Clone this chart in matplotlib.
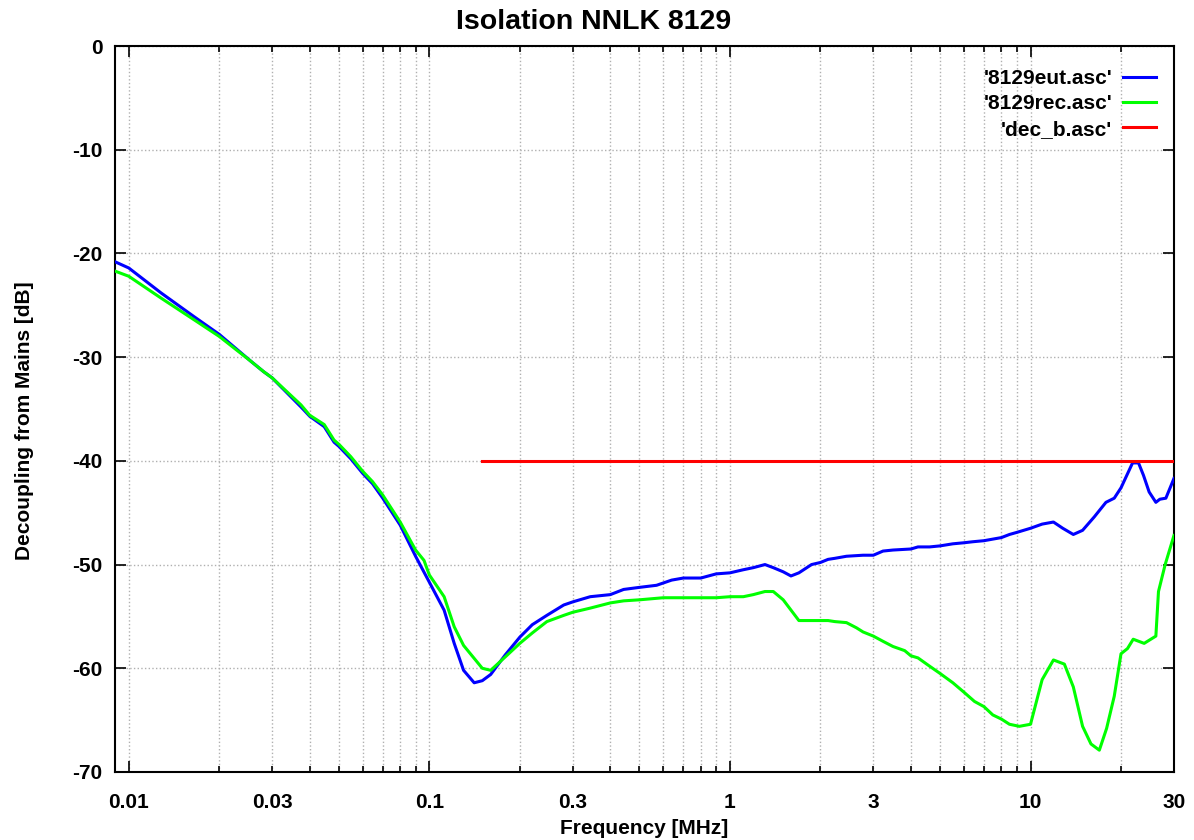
import matplotlib
matplotlib.use('Agg')
import matplotlib.pyplot as plt

plt.rcParams['font.family'] = ['Liberation Sans', 'DejaVu Sans']
plt.rcParams['font.weight'] = 'bold'
plt.rcParams['axes.unicode_minus'] = False

freq_eut = [0.009, 0.01, 0.0128, 0.0165, 0.02, 0.0255, 0.0281, 0.03, 0.0374, 0.04,
            0.0447, 0.0482, 0.05, 0.0548, 0.06, 0.0647, 0.07, 0.08, 0.09, 0.1,
            0.112, 0.121, 0.13, 0.141, 0.15, 0.16, 0.179, 0.2, 0.22, 0.246,
            0.28, 0.3, 0.343, 0.4, 0.443, 0.5, 0.57, 0.64, 0.7, 0.8,
            0.9, 1.0, 1.108, 1.196, 1.308, 1.394, 1.504, 1.596, 1.696, 1.869,
            2.0, 2.121, 2.233, 2.442, 2.773, 3.0, 3.23, 3.486, 4.0, 4.222,
            4.616, 5.0, 5.516, 6.0, 6.43, 7.0, 8.0, 8.51, 9.0, 10.0,
            10.93, 11.92, 12.8, 13.88, 14.9, 16.3, 17.82, 18.99, 20.0, 21.85,
            22.87, 23.76, 24.81, 26.12, 26.93, 28.2, 30.0]
eut_db = [-20.8, -21.4, -23.8, -26.1, -27.8, -30.4, -31.4, -32.0, -34.8, -35.7,
          -36.7, -38.2, -38.6, -39.8, -41.2, -42.2, -43.6, -46.2, -49.2, -51.7,
          -54.4, -57.6, -60.2, -61.4, -61.2, -60.6, -58.7, -57.0, -55.8, -54.9,
          -53.9, -53.6, -53.1, -52.9, -52.4, -52.2, -52.0, -51.5, -51.3, -51.3,
          -50.9, -50.8, -50.5, -50.3, -50.0, -50.3, -50.7, -51.1, -50.8, -50.0,
          -49.8, -49.5, -49.4, -49.2, -49.1, -49.1, -48.7, -48.6, -48.5, -48.3,
          -48.3, -48.2, -48.0, -47.9, -47.8, -47.7, -47.4, -47.1, -46.9, -46.5,
          -46.1, -45.9, -46.5, -47.1, -46.7, -45.4, -44.0, -43.6, -42.6, -40.2,
          -40.2, -41.4, -43.0, -44.0, -43.7, -43.6, -41.7]

freq_rec = [0.009, 0.01, 0.0128, 0.0165, 0.02, 0.0255, 0.0281, 0.03, 0.0374, 0.04,
            0.0447, 0.0482, 0.05, 0.0548, 0.06, 0.0647, 0.07, 0.08, 0.09, 0.096,
            0.1, 0.112, 0.121, 0.13, 0.15, 0.16, 0.179, 0.2, 0.22, 0.246,
            0.28, 0.3, 0.343, 0.4, 0.443, 0.5, 0.6, 0.7, 0.8, 0.9,
            1.0, 1.108, 1.196, 1.308, 1.394, 1.504, 1.696, 2.0, 2.121, 2.233,
            2.442, 2.636, 2.773, 3.0, 3.23, 3.486, 3.814, 4.0, 4.222, 4.616,
            5.0, 5.516, 6.0, 6.51, 7.0, 7.49, 8.0, 8.51, 9.18, 10.0,
            10.93, 11.92, 12.96, 13.88, 14.9, 15.89, 16.94, 17.91, 18.99, 20.0,
            21.02, 21.96, 23.88, 26.12, 26.65, 28.05, 30.0]
rec_db = [-21.7, -22.2, -24.3, -26.4, -28.0, -30.4, -31.4, -32.0, -34.6, -35.6,
          -36.5, -38.0, -38.4, -39.6, -41.0, -42.0, -43.3, -45.9, -48.6, -49.6,
          -51.0, -53.1, -56.0, -57.8, -60.0, -60.2, -58.9, -57.6, -56.6, -55.5,
          -54.9, -54.6, -54.2, -53.7, -53.5, -53.4, -53.2, -53.2, -53.2, -53.2,
          -53.1, -53.1, -52.9, -52.6, -52.6, -53.4, -55.4, -55.4, -55.4, -55.5,
          -55.6, -56.1, -56.5, -56.9, -57.4, -57.9, -58.3, -58.8, -59.0, -59.8,
          -60.5, -61.4, -62.3, -63.2, -63.7, -64.5, -64.9, -65.4, -65.6, -65.4,
          -61.1, -59.2, -59.6, -61.8, -65.6, -67.3, -67.9, -65.8, -62.7, -58.6,
          -58.1, -57.2, -57.6, -56.9, -52.6, -50.0, -47.2]

# limit line
freq_limit = [0.15, 30.0]
limit_db = [-40.0, -40.0]

x_major = [0.01, 0.1, 1, 10]
x_minor = [m * d for d in [0.01, 0.1, 1, 10] for m in range(2, 10) if m * d <= 30]
x_labels = {0.01: '0.01', 0.03: '0.03', 0.1: '0.1', 0.3: '0.3', 1: '1', 3: '3', 10: '10', 30: '30'}

fig = plt.figure(figsize=(11.94, 8.4), dpi=100)
ax = fig.add_axes([0.0963, 0.081, 0.8869, 0.8642])

ax.plot(freq_eut, eut_db, color='#0000ff', lw=2.2, label="'8129eut.asc'", zorder=3)
ax.plot(freq_rec, rec_db, color='#00ff00', lw=2.2, label="'8129rec.asc'", zorder=3)
ax.plot(freq_limit, limit_db, color='#ff0000', lw=2.2, label="'dec_b.asc'", zorder=3)

ax.set_xscale('log')
ax.set_xlim(0.009, 30)
ax.set_ylim(-70, 0)

ax.set_xticks(x_major, labels=[x_labels.get(v, '') for v in x_major])
ax.set_xticks(x_minor, labels=[x_labels.get(round(v, 4), '') for v in x_minor], minor=True)
ax.set_yticks(range(-70, 1, 10))

ax.tick_params(which='both', direction='in', top=True, right=True, labelsize=15, width=1.2)
ax.tick_params(which='major', length=8)
ax.tick_params(which='minor', length=4)
ax.tick_params(axis='x', which='both', pad=15)
ax.tick_params(axis='y', pad=9)

ax.grid(True, which='both', axis='x', color='#b0b0b0', ls=':', lw=1.0)
ax.grid(True, which='major', axis='y', color='#b0b0b0', ls=':', lw=1.0)
for s in ax.spines.values():
    s.set_linewidth(1.5)

fig.suptitle('Isolation NNLK 8129', fontsize=20.5, fontweight='bold', x=0.497, y=0.974, va='center')
ax.set_xlabel('Frequency [MHz]', fontsize=15, fontweight='bold', labelpad=5)
ax.set_ylabel('Decoupling from Mains [dB]', fontsize=15, fontweight='bold')
ax.yaxis.set_label_coords(-0.0765, 0.4835)

ax.legend(loc='upper right', bbox_to_anchor=(1.0, 0.993), frameon=False, markerfirst=False,
          fontsize=15, handlelength=1.6, handletextpad=0.5, labelspacing=0.31,
          borderaxespad=0.45)

fig.savefig('out.png', dpi=100)
